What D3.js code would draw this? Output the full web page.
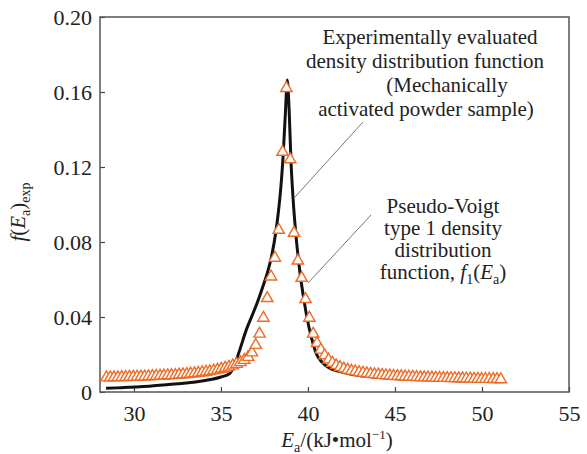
<!DOCTYPE html>
<html>
<head>
<meta charset="utf-8">
<script src="https://cdn.jsdelivr.net/npm/d3@7"></script>
<style>
  body { margin: 0; background: #fff; }
  text { font-family: "Liberation Serif", "Times New Roman", serif; fill: #222; }
</style>
</head>
<body>
<div id="chart"></div>
<script>
// pseudo-Voigt type 1 fit (triangles)
var fitEnergy = [28.42, 28.64, 28.86, 29.08, 29.30, 29.52, 29.74, 29.96, 30.18, 30.40,
  30.62, 30.84, 31.06, 31.28, 31.50, 31.72, 31.94, 32.16, 32.38, 32.60,
  32.82, 33.04, 33.26, 33.48, 33.70, 33.92, 34.14, 34.36, 34.58, 34.80,
  35.02, 35.24, 35.46, 35.68, 35.90, 36.12, 36.34, 36.56, 36.78, 37.00,
  37.22, 37.44, 37.66, 37.88, 38.10, 38.32, 38.54, 38.76, 38.98, 39.20,
  39.42, 39.64, 39.86, 40.08, 40.30, 40.52, 40.74, 40.96, 41.18, 41.40,
  41.62, 41.84, 42.06, 42.28, 42.50, 42.72, 42.94, 43.16, 43.38, 43.60,
  43.82, 44.04, 44.26, 44.48, 44.70, 44.92, 45.14, 45.36, 45.58, 45.80,
  46.02, 46.24, 46.46, 46.68, 46.90, 47.12, 47.34, 47.56, 47.78, 48.00,
  48.22, 48.44, 48.66, 48.88, 49.10, 49.32, 49.54, 49.76, 49.98, 50.20,
  50.42, 50.64, 50.86, 51.08];
var fitDensity = [0.0077, 0.0077, 0.0078, 0.0078, 0.0079, 0.0079, 0.0080, 0.0080, 0.0081, 0.0082,
  0.0082, 0.0083, 0.0084, 0.0085, 0.0086, 0.0087, 0.0088, 0.0089, 0.0090, 0.0092,
  0.0093, 0.0095, 0.0097, 0.0099, 0.0101, 0.0104, 0.0107, 0.0110, 0.0114, 0.0118,
  0.0123, 0.0128, 0.0134, 0.0141, 0.0149, 0.0158, 0.0170, 0.0186, 0.0210, 0.0250,
  0.0310, 0.0395, 0.0500, 0.0615, 0.0715, 0.0864, 0.1280, 0.1620, 0.1240, 0.0848,
  0.0700, 0.0608, 0.0495, 0.0395, 0.0310, 0.0260, 0.0225, 0.0195, 0.0172, 0.0155,
  0.0142, 0.0132, 0.0124, 0.0118, 0.0113, 0.0109, 0.0105, 0.0102, 0.0099, 0.0096,
  0.0094, 0.0092, 0.0090, 0.0088, 0.0087, 0.0085, 0.0084, 0.0083, 0.0082, 0.0081,
  0.0080, 0.0079, 0.0078, 0.0077, 0.0077, 0.0076, 0.0075, 0.0075, 0.0074, 0.0074,
  0.0073, 0.0073, 0.0072, 0.0072, 0.0071, 0.0071, 0.0070, 0.0070, 0.0069, 0.0069,
  0.0069, 0.0068, 0.0068, 0.0067];

// experimentally evaluated curve (black line)
var expEnergy = [28.4, 29, 30, 31, 32, 33, 34, 34.5, 35, 35.5,
  35.8, 36.1, 36.45, 36.8, 37.1, 37.4, 37.6, 37.9, 38.17, 38.3,
  38.45, 38.56, 38.71, 38.81, 38.92, 39.02, 39.15, 39.3, 39.5, 39.77,
  40.05, 40.3, 40.5, 40.8, 41.2, 41.8, 42.5, 43.5, 45, 47, 49, 51];
var expDensity = [0.0020, 0.0022, 0.0027, 0.0032, 0.0040, 0.0048, 0.0060, 0.0068, 0.0080, 0.0098,
  0.0150, 0.0230, 0.0330, 0.0410, 0.0480, 0.0560, 0.0615, 0.0720, 0.0864, 0.0960,
  0.1100, 0.1240, 0.1500, 0.1664, 0.1500, 0.1240, 0.1024, 0.0846, 0.0668, 0.0490,
  0.0348, 0.0255, 0.0200, 0.0160, 0.0130, 0.0110, 0.0095, 0.0082, 0.0072, 0.0066,
  0.0062, 0.0060];

var xTicks = [30, 35, 40, 45, 50, 55];
var yTicks = [0, 0.04, 0.08, 0.12, 0.16, 0.20];

var margin = {top: 17, right: 18, bottom: 62, left: 100};
var width = 587 - margin.left - margin.right;
var height = 454 - margin.top - margin.bottom;

var svg = d3.select("#chart")
  .append("svg")
    .attr("width", 587)
    .attr("height", 454)
  .append("g")
    .attr("transform", "translate(" + margin.left + "," + margin.top + ")");

var x = d3.scaleLinear().domain([28.05, 55]).range([0, width]);
var y = d3.scaleLinear().domain([0, 0.2]).range([height, 0]);

// axes, ticks point inward
var xAxis = svg.append("g")
    .attr("transform", "translate(0," + height + ")")
    .call(d3.axisBottom(x).tickValues(xTicks).tickSize(-5).tickPadding(13).tickFormat(d3.format("d")));
var yAxis = svg.append("g")
    .call(d3.axisLeft(y).tickValues(yTicks).tickSize(-5).tickPadding(8)
      .tickFormat(function (d) { return d === 0 ? "0" : d3.format(".2f")(d); }));

[xAxis, yAxis].forEach(function (a) {
  a.select(".domain").remove();
  a.selectAll(".tick line").attr("stroke", "#444").attr("stroke-width", 1.2);
  a.selectAll(".tick text")
    .style("font-family", "'Liberation Serif', serif")
    .style("font-size", "22px")
    .attr("fill", "#222");
});

// frame
svg.append("rect")
  .attr("x", 0).attr("y", 0)
  .attr("width", width).attr("height", height)
  .attr("fill", "none")
  .attr("stroke", "#555")
  .attr("stroke-width", 1.5);

// experimental curve
var line = d3.line()
  .x(function (d) { return x(d[0]); })
  .y(function (d) { return y(d[1]); })
  .curve(d3.curveMonotoneX);

svg.append("path")
  .datum(d3.zip(expEnergy, expDensity))
  .attr("d", line)
  .attr("fill", "none")
  .attr("stroke", "#111")
  .attr("stroke-width", 3);

// fitted triangles
var tri = d3.symbol().type(d3.symbolTriangle).size(56);
svg.append("g")
  .selectAll("path")
  .data(d3.zip(fitEnergy, fitDensity))
  .enter()
  .append("path")
    .attr("d", tri)
    .attr("transform", function (d) { return "translate(" + x(d[0]) + "," + y(d[1]) + ")"; })
    .attr("fill", "#fff")
    .attr("stroke", "#ef6a24")
    .attr("stroke-width", 1.4);

// annotations
var note1 = [["Experimentally evaluated", 330, 44], ["density distribution function", 325, 68],
  ["(Mechanically", 347, 92], ["activated powder sample)", 326, 116]];
svg.selectAll(".note1")
  .data(note1)
  .enter()
  .append("text")
    .attr("class", "note1")
    .attr("text-anchor", "middle")
    .attr("x", function (d) { return d[1]; })
    .attr("y", function (d) { return d[2] - margin.top; })
    .style("font-size", "21px")
    .text(function (d) { return d[0]; });

var note2 = [["Pseudo-Voigt", 213], ["type 1 density", 235], ["distribution", 257]];
svg.selectAll(".note2")
  .data(note2)
  .enter()
  .append("text")
    .attr("class", "note2")
    .attr("text-anchor", "middle")
    .attr("x", 343)
    .attr("y", function (d) { return d[1] - margin.top; })
    .style("font-size", "21px")
    .text(function (d) { return d[0]; });

var fn = svg.append("text")
  .attr("text-anchor", "middle")
  .attr("x", 343)
  .attr("y", 279 - margin.top)
  .style("font-size", "21px");
fn.append("tspan").text("function, ");
fn.append("tspan").style("font-style", "italic").text("f");
fn.append("tspan").attr("dy", 5).style("font-size", "14px").text("1");
fn.append("tspan").attr("dy", -5).text("(");
fn.append("tspan").style("font-style", "italic").text("E");
fn.append("tspan").attr("dy", 5).style("font-size", "14px").text("a");
fn.append("tspan").attr("dy", -5).text(")");

// leader lines
svg.append("line")
  .attr("x1", 363 - margin.left).attr("y1", 122 - margin.top)
  .attr("x2", 295 - margin.left).attr("y2", 197 - margin.top)
  .attr("stroke", "#777").attr("stroke-width", 1);
svg.append("line")
  .attr("x1", 371 - margin.left).attr("y1", 215 - margin.top)
  .attr("x2", 308 - margin.left).attr("y2", 283 - margin.top)
  .attr("stroke", "#777").attr("stroke-width", 1);

// x label
var xl = svg.append("text")
  .attr("text-anchor", "middle")
  .attr("x", 337 - margin.left)
  .attr("y", 447 - margin.top)
  .style("font-size", "21px");
xl.append("tspan").style("font-style", "italic").text("E");
xl.append("tspan").attr("dy", 5).style("font-size", "14px").text("a");
xl.append("tspan").attr("dy", -5).text("/(kJ\u2022mol");
xl.append("tspan").attr("dy", -8).style("font-size", "13px").text("\u22121");
xl.append("tspan").attr("dy", 8).text(")");

// y label
var yl = svg.append("text")
  .attr("text-anchor", "middle")
  .attr("transform", "translate(" + (25 - margin.left) + "," + (212 - margin.top) + ") rotate(-90)")
  .style("font-size", "21px");
yl.append("tspan").style("font-style", "italic").text("f");
yl.append("tspan").text("(");
yl.append("tspan").style("font-style", "italic").text("E");
yl.append("tspan").attr("dy", 5).style("font-size", "14px").text("a");
yl.append("tspan").attr("dy", -5).text(")");
yl.append("tspan").attr("dy", 5).style("font-size", "14px").text("exp");
</script>
</body>
</html>
